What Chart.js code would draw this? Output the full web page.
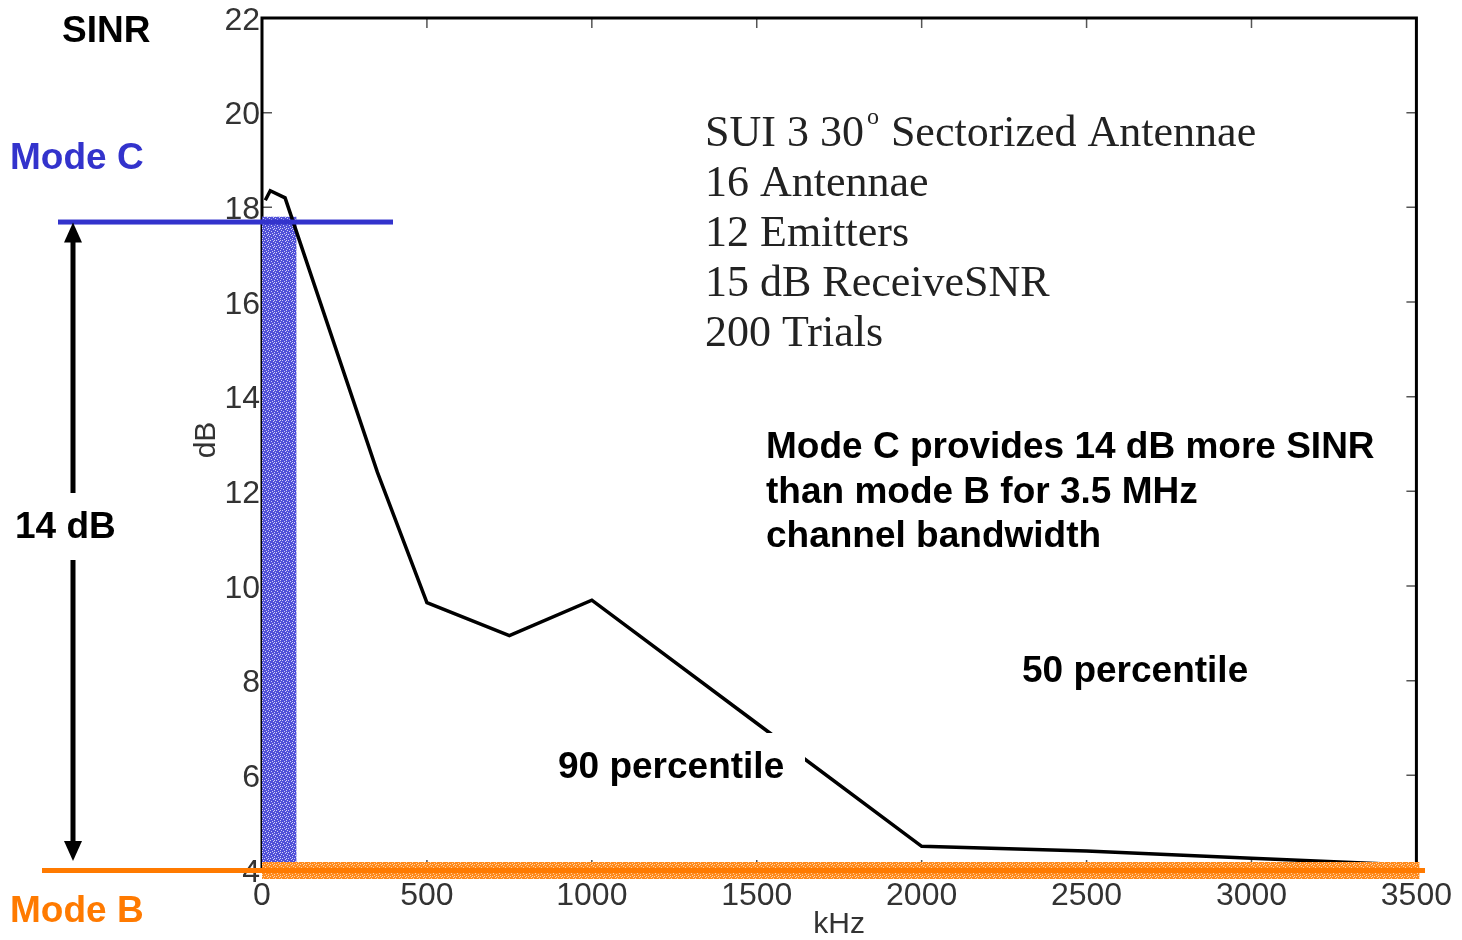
<!DOCTYPE html>
<html>
<head>
<meta charset="utf-8">
<script src="https://cdn.jsdelivr.net/npm/chart.js@4.4.1/dist/chart.umd.min.js"></script>
<style>
  html, body { margin: 0; padding: 0; background: #fff; }
  #wrap { width: 1462px; height: 940px; }
</style>
</head>
<body>
<div id="wrap"><canvas id="sinrChart" width="1462" height="940"></canvas></div>
<script>
// 90 percentile SINR curve (kHz -> dB)
const freqKHz = [10, 25, 70, 350, 500, 750, 1000, 1500, 2000, 2500, 3000, 3500];
const sinrDb  = [18.15, 18.35, 18.2, 12.4, 9.65, 8.95, 9.7, 7.1, 4.5, 4.4, 4.25, 4.1];

// axis ticks
const xTicks = [0, 500, 1000, 1500, 2000, 2500, 3000, 3500];
const yTicks = [4, 6, 8, 10, 12, 14, 16, 18, 20, 22];

// mode levels (dB) and the Mode C bandwidth strip (kHz)
const modeCLevel = 17.7;
const modeBLevel = 4.0;
const modeCBand = [0, 105];
const modeCBandTop = 17.8;

const infoLines = ['16 Antennae', '12 Emitters', '15 dB ReceiveSNR', '200 Trials'];
const noteLines = ['Mode C provides 14 dB more SINR', 'than mode B for 3.5 MHz', 'channel bandwidth'];

const BLUE = '#3333cc';
const ORANGE = '#ff7a00';
const SANS = '"Liberation Sans", Arial, sans-serif';
const SERIF = '"Liberation Serif", "Times New Roman", serif';

const canvas = document.getElementById('sinrChart');
const ctx = canvas.getContext('2d');

// speckled fill like the original shading
function makePattern(base, speck) {
    const c = document.createElement('canvas');
    c.width = 6; c.height = 6;
    const g = c.getContext('2d');
    g.fillStyle = base;
    g.fillRect(0, 0, 6, 6);
    g.fillStyle = speck;
    [[0, 0], [3, 1], [1, 3], [4, 4], [2, 5], [5, 2], [4, 0]].forEach(([a, b]) => g.fillRect(a, b, 1, 1));
    return ctx.createPattern(c, 'repeat');
}

const bluePattern = makePattern('#5050d8', '#d0d0f6');
const orangePattern = makePattern('#ff8a1c', '#ffd3a6');

const decor = {
    id: 'decor',
    beforeDatasetsDraw(chart) {
        const { ctx, chartArea: a, scales: { x, y } } = chart;
        ctx.save();
        // tick marks pointing inward on all four sides
        ctx.strokeStyle = '#555';
        ctx.lineWidth = 1.5;
        xTicks.forEach(v => {
            const px = x.getPixelForValue(v);
            ctx.beginPath();
            ctx.moveTo(px, a.bottom); ctx.lineTo(px, a.bottom - 10);
            ctx.moveTo(px, a.top); ctx.lineTo(px, a.top + 10);
            ctx.stroke();
        });
        yTicks.forEach(v => {
            const py = y.getPixelForValue(v);
            ctx.beginPath();
            ctx.moveTo(a.left, py); ctx.lineTo(a.left + 10, py);
            ctx.moveTo(a.right, py); ctx.lineTo(a.right - 10, py);
            ctx.stroke();
        });
        // box
        ctx.strokeStyle = '#000';
        ctx.lineWidth = 3;
        ctx.strokeRect(a.left, a.top, a.right - a.left, a.bottom - a.top);
        ctx.restore();
    },
    afterDatasetsDraw(chart) {
        const { ctx, chartArea: a, scales: { x, y } } = chart;
        const yC = y.getPixelForValue(modeCLevel);
        const yB = y.getPixelForValue(modeBLevel);
        ctx.save();

        // Mode B strip along the bottom
        ctx.fillStyle = orangePattern;
        ctx.fillRect(a.left, yB - 8, a.right - a.left + 3, 17);
        ctx.fillStyle = ORANGE;
        ctx.fillRect(42, yB - 2, 1383, 5);

        // Mode C level line
        ctx.fillStyle = BLUE;
        ctx.fillRect(58, yC - 2, 335, 5);

        // 14 dB double arrow
        const ax = 73;
        ctx.fillStyle = '#000';
        ctx.fillRect(ax - 2.5, yC + 18, 5, 493 - (yC + 18));
        ctx.fillRect(ax - 2.5, 560, 5, (yB - 28) - 560);
        ctx.beginPath();
        ctx.moveTo(ax, yC + 1); ctx.lineTo(ax - 9, yC + 21); ctx.lineTo(ax + 9, yC + 21); ctx.closePath();
        ctx.fill();
        ctx.beginPath();
        ctx.moveTo(ax, yB - 9); ctx.lineTo(ax - 9, yB - 29); ctx.lineTo(ax + 9, yB - 29); ctx.closePath();
        ctx.fill();

        // white box behind "90 percentile"
        ctx.fillStyle = '#fff';
        ctx.fillRect(552, 733, 253, 67);

        // bold labels
        ctx.textBaseline = 'middle';
        ctx.textAlign = 'left';
        ctx.font = 'bold 37px ' + SANS;
        ctx.fillStyle = '#000';
        ctx.fillText('SINR', 62, 32);
        ctx.fillText('14 dB', 15, 528);
        ctx.fillText('90 percentile', 558, 768);
        ctx.fillText('50 percentile', 1022, 672);
        noteLines.forEach((t, i) => ctx.fillText(t, 766, 448 + i * 44.5));
        ctx.fillStyle = BLUE;
        ctx.fillText('Mode C', 10, 159);
        ctx.fillStyle = ORANGE;
        ctx.fillText('Mode B', 10, 912);

        // serif info block
        ctx.fillStyle = '#222';
        ctx.font = '44px ' + SERIF;
        let tx = 705;
        ctx.fillText('SUI 3 30', tx, 134);
        tx += ctx.measureText('SUI 3 30').width + 3;
        ctx.font = '24px ' + SERIF;
        ctx.fillText('o', tx, 118);
        tx += ctx.measureText('o').width + 1;
        ctx.font = '44px ' + SERIF;
        ctx.fillText(' Sectorized Antennae', tx, 134);
        infoLines.forEach((t, i) => ctx.fillText(t, 705, 184 + i * 50));

        // y axis title
        ctx.font = '30px ' + SANS;
        ctx.fillStyle = '#333';
        ctx.translate(207, 440);
        ctx.rotate(-Math.PI / 2);
        ctx.textAlign = 'center';
        ctx.fillText('dB', 0, 0);
        ctx.restore();
    }
};

const chart = new Chart(ctx, {
    type: 'line',
    data: {
        datasets: [
            {
                label: '90 percentile',
                data: freqKHz.map((f, i) => ({ x: f, y: sinrDb[i] })),
                borderColor: '#000',
                borderWidth: 3.5,
                pointRadius: 0,
                tension: 0,
                fill: false
            },
            {
                label: 'Mode C band',
                data: [{ x: modeCBand[0], y: modeCBandTop }, { x: modeCBand[1], y: modeCBandTop }],
                borderWidth: 0,
                borderColor: 'rgba(0,0,0,0)',
                backgroundColor: bluePattern,
                pointRadius: 0,
                fill: { value: yTicks[0] }
            }
        ]
    },
    options: {
        responsive: false,
        animation: false,
        layout: { padding: { top: 17, right: 45, left: 0, bottom: 0 } },
        plugins: {
            legend: { display: false },
            tooltip: { enabled: false }
        },
        scales: {
            x: {
                type: 'linear',
                min: 0,
                max: 3500,
                afterBuildTicks: s => { s.ticks = xTicks.map(v => ({ value: v })); },
                afterFit: s => { s.height = 70; },
                grid: { display: false, drawTicks: false },
                border: { display: false },
                ticks: {
                    autoSkip: false,
                    maxRotation: 0,
                    padding: 10,
                    color: '#333',
                    callback: v => String(v),
                    font: { family: SANS, size: 32, lineHeight: 1 }
                },
                title: {
                    display: true,
                    text: 'kHz',
                    color: '#333',
                    padding: { top: 0, bottom: -3 },
                    font: { family: SANS, size: 30 }
                }
            },
            y: {
                type: 'linear',
                min: 4,
                max: 22,
                afterBuildTicks: s => { s.ticks = yTicks.map(v => ({ value: v })); },
                afterFit: s => { s.width = 262; },
                grid: { display: false, drawTicks: false },
                border: { display: false },
                ticks: {
                    autoSkip: false,
                    padding: 2,
                    labelOffset: 3,
                    color: '#333',
                    callback: v => String(v),
                    font: { family: SANS, size: 32, lineHeight: 1 }
                }
            }
        }
    },
    plugins: [decor]
});
</script>
</body>
</html>
